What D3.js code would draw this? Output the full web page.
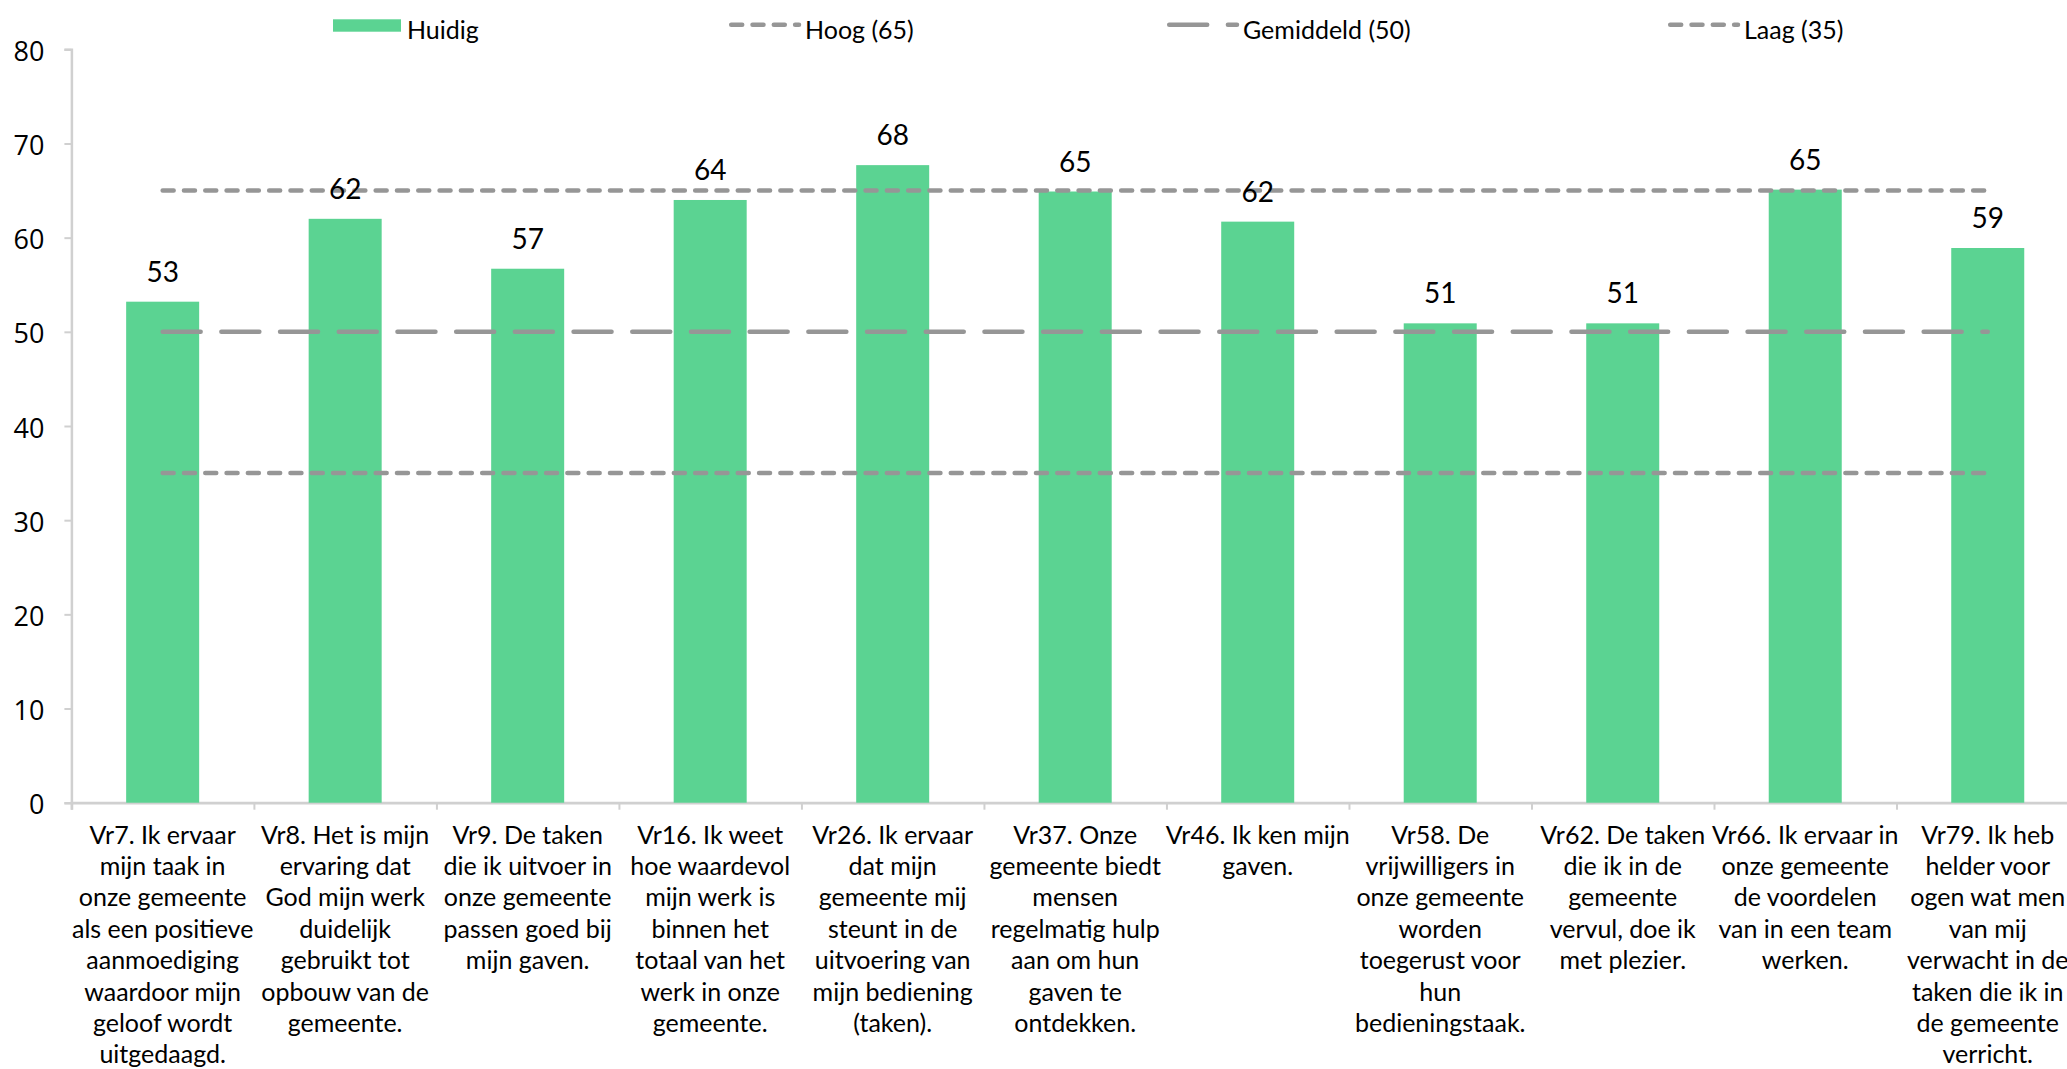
<!DOCTYPE html>
<html>
<head>
<meta charset="utf-8">
<script src="https://cdn.jsdelivr.net/npm/d3@7"></script>
<style>
  html, body { margin: 0; padding: 0; background: #fff; overflow: hidden; }
  svg { display: block; }
</style>
</head>
<body>
<svg id="chart" width="2067" height="1069"></svg>
<script>
// ---- data ----
const categories = [
  "Vr7. Ik ervaar\nmijn taak in\nonze gemeente\nals een positieve\naanmoediging\nwaardoor mijn\ngeloof wordt\nuitgedaagd.",
  "Vr8. Het is mijn\nervaring dat\nGod mijn werk\nduidelijk\ngebruikt tot\nopbouw van de\ngemeente.",
  "Vr9. De taken\ndie ik uitvoer in\nonze gemeente\npassen goed bij\nmijn gaven.",
  "Vr16. Ik weet\nhoe waardevol\nmijn werk is\nbinnen het\ntotaal van het\nwerk in onze\ngemeente.",
  "Vr26. Ik ervaar\ndat mijn\ngemeente mij\nsteunt in de\nuitvoering van\nmijn bediening\n(taken).",
  "Vr37. Onze\ngemeente biedt\nmensen\nregelmatig hulp\naan om hun\ngaven te\nontdekken.",
  "Vr46. Ik ken mijn\ngaven.",
  "Vr58. De\nvrijwilligers in\nonze gemeente\nworden\ntoegerust voor\nhun\nbedieningstaak.",
  "Vr62. De taken\ndie ik in de\ngemeente\nvervul, doe ik\nmet plezier.",
  "Vr66. Ik ervaar in\nonze gemeente\nde voordelen\nvan in een team\nwerken.",
  "Vr79. Ik heb\nhelder voor\nogen wat men\nvan mij\nverwacht in de\ntaken die ik in\nde gemeente\nverricht."
];
const huidig = [53.2, 62.0, 56.7, 64.0, 67.7, 64.9, 61.7, 50.9, 50.9, 65.1, 58.9];
const hoog = 65;
const gemiddeld = 50;
const laag = 35;
const seriesNames = ["Huidig", "Hoog (65)", "Gemiddeld (50)", "Laag (35)"];
const yTicks = [0, 10, 20, 30, 40, 50, 60, 70, 80];

// ---- layout ----
const svg = d3.select("#chart");
const x0 = 71.4, x1 = 2079, yBottom = 802.7, yTop = 49.3;
const green = "#5bd392", lineGray = "#969696", axisGray = "#d0d0d0";

const x = d3.scaleBand().domain(d3.range(categories.length)).range([x0, x1])
  .paddingInner(0.6).paddingOuter(0.3);
const y = d3.scaleLinear().domain([0, 80]).range([yBottom, yTop]);
const step = x.step();
const cx = i => x(i) + x.bandwidth() / 2;

// y axis
const yAxis = d3.axisLeft(y).tickValues(yTicks).tickSize(7).tickPadding(0).tickFormat(d3.format("d"));
const gy = svg.append("g").attr("transform", `translate(${x0},0)`).call(yAxis);
gy.select(".domain").attr("stroke", axisGray).attr("stroke-width", 2.5);
gy.selectAll(".tick line").attr("stroke", axisGray).attr("stroke-width", 2);
gy.selectAll(".tick text")
  .attr("x", -27).attr("dy", null).attr("y", 11)
  .attr("text-anchor", "end")
  .style("font-family", "'Open Sans', Lato, sans-serif")
  .style("font-size", "27px").attr("fill", "#000");

// x axis (category boundaries as ticks)
const xb = d3.scaleLinear().domain([0, categories.length]).range([x0, x0 + step * categories.length]);
const xAxis = d3.axisBottom(xb).tickValues(d3.range(categories.length + 1)).tickSize(7).tickFormat("");
const gx = svg.append("g").attr("transform", `translate(0,${yBottom})`).call(xAxis);
gx.select(".domain").attr("stroke", axisGray).attr("stroke-width", 2.7);
gx.selectAll(".tick line").attr("stroke", axisGray).attr("stroke-width", 2);

// bars
svg.append("g").selectAll("rect").data(huidig).join("rect")
  .attr("x", (d, i) => x(i)).attr("width", x.bandwidth())
  .attr("y", d => y(d)).attr("height", d => y(0) - y(d))
  .attr("fill", green);

// reference lines
const refLines = [
  { v: hoog, dash: "11 10.3" },
  { v: gemiddeld, dash: "38 20.7" },
  { v: laag, dash: "11 10.3" }
];
const first = cx(0), last = cx(categories.length - 1);
svg.append("g").selectAll("line").data(refLines).join("line")
  .attr("x1", first).attr("x2", last)
  .attr("y1", d => y(d.v)).attr("y2", d => y(d.v))
  .attr("stroke", lineGray).attr("stroke-width", 4.5)
  .attr("stroke-linecap", "round").attr("stroke-dasharray", d => d.dash);

// data labels
svg.append("g").selectAll("text").data(huidig).join("text")
  .attr("x", (d, i) => cx(i)).attr("y", d => y(d) - 20)
  .attr("text-anchor", "middle")
  .style("font-family", "Lato, 'Open Sans', sans-serif").style("font-size", "28px")
  .attr("fill", "#000")
  .text(d => Math.round(d));

// category labels
const lineH = 31.4;
const lbl = svg.append("g").selectAll("text").data(categories).join("text")
  .attr("x", (d, i) => cx(i)).attr("y", 843.5)
  .attr("text-anchor", "middle")
  .style("font-family", "Lato, 'Open Sans', sans-serif").style("font-size", "25px")
  .attr("fill", "#000");
lbl.each(function(d, i) {
  const t = d3.select(this);
  d.split("\n").forEach((ln, k) => {
    t.append("tspan").attr("x", cx(i)).attr("dy", k === 0 ? 0 : lineH).text(ln);
  });
});

// legend
const legend = [
  { name: seriesNames[0], x: 333, type: "rect" },
  { name: seriesNames[1], x: 729, type: "line", dash: "11 10.3" },
  { name: seriesNames[2], x: 1167, type: "line", dash: "38 20.7" },
  { name: seriesNames[3], x: 1668, type: "line", dash: "11 10.3" }
];
const lg = svg.append("g").selectAll("g").data(legend).join("g");
lg.filter(d => d.type === "rect").append("rect")
  .attr("x", d => d.x).attr("y", 19.3).attr("width", 68).attr("height", 12.4).attr("fill", green);
lg.filter(d => d.type === "line").append("line")
  .attr("x1", d => d.x + 2.2).attr("x2", d => d.x + 70)
  .attr("y1", 24.7).attr("y2", 24.7)
  .attr("stroke", lineGray).attr("stroke-width", 4.5)
  .attr("stroke-linecap", "round").attr("stroke-dasharray", d => d.dash);
lg.append("text")
  .attr("x", d => d.x + (d.type === "rect" ? 74 : 76)).attr("y", 39)
  .style("font-family", "Lato, 'Open Sans', sans-serif").style("font-size", "25px")
  .attr("fill", "#000")
  .text(d => d.name);
</script>
</body>
</html>
